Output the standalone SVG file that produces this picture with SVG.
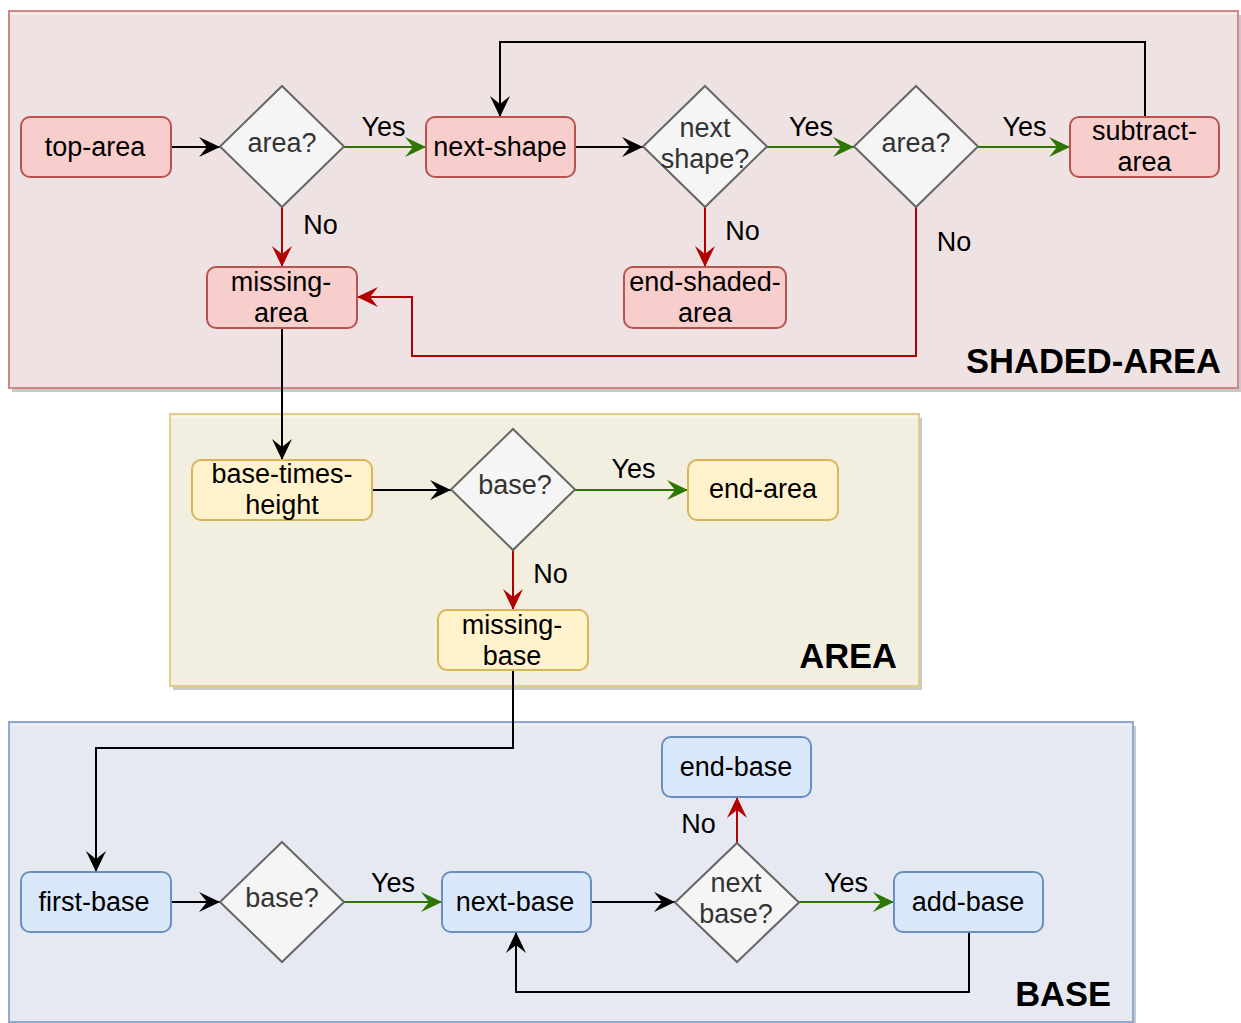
<svg xmlns="http://www.w3.org/2000/svg" width="1241" height="1023" viewBox="0 0 1241 1023">
  <style>
    text { font-family: "Liberation Sans", Arial, Helvetica, sans-serif; }
    .lbl { font-size: 27px; fill: #000; text-anchor: middle; }
    .dlbl { font-size: 27px; fill: #333; text-anchor: middle; }
    .title { font-size: 34.5px; font-weight: bold; fill: #000; text-anchor: end; }
    .shadow { fill: #c9c9c9; }
    .pink { fill: #f8cecc; stroke: #b85450; stroke-width: 2; }
    .yellow { fill: #fff2cc; stroke: #d6b656; stroke-width: 2; }
    .blue { fill: #dae8fc; stroke: #6c8ebf; stroke-width: 2; }
    .dec { fill: #f5f5f5; stroke: #666; stroke-width: 2; }
    .e { fill: none; stroke-width: 2; }
    .k { stroke: #000; marker-end: url(#ah-k); }
    .g { stroke: #2d7600; marker-end: url(#ah-g); }
    .r { stroke: #b20000; marker-end: url(#ah-r); }
  </style>
  <defs>
    <marker id="ah-k" viewBox="-22 -11 24 22" refX="0" refY="0" markerWidth="24" markerHeight="22" markerUnits="userSpaceOnUse" orient="auto">
      <path d="M0,0 L-21,-10 L-13,0 L-21,10 Z" fill="#000"/>
    </marker>
    <marker id="ah-g" viewBox="-22 -11 24 22" refX="0" refY="0" markerWidth="24" markerHeight="22" markerUnits="userSpaceOnUse" orient="auto">
      <path d="M0,0 L-21,-10 L-13,0 L-21,10 Z" fill="#2d7600"/>
    </marker>
    <marker id="ah-r" viewBox="-22 -11 24 22" refX="0" refY="0" markerWidth="24" markerHeight="22" markerUnits="userSpaceOnUse" orient="auto">
      <path d="M0,0 L-21,-10 L-13,0 L-21,10 Z" fill="#b20000"/>
    </marker>
  </defs>

  <rect width="1241" height="1023" fill="#fff"/>

  <!-- swimlane containers -->
  <g id="lane-shaded-area">
    <rect class="shadow" x="12" y="15" width="1229" height="377"/>
    <rect x="9" y="11" width="1229" height="377" fill="#efe2e2" stroke="#d08886" stroke-width="2"/>
    <line x1="10" y1="14" x2="1237" y2="14" stroke="#f8eded" stroke-width="2"/>
    <text class="title" x="1221" y="373">SHADED-AREA</text>
  </g>
  <g id="lane-area">
    <rect class="shadow" x="173" y="418" width="749" height="272"/>
    <rect x="170" y="414" width="749" height="272" fill="#f3efe0" stroke="#e3cc87" stroke-width="2"/>
    <line x1="171" y1="417" x2="918" y2="417" stroke="#f9f5ea" stroke-width="2"/>
    <text class="title" x="897" y="668">AREA</text>
  </g>
  <g id="lane-base">
    <rect class="shadow" x="12" y="726" width="1124" height="300"/>
    <rect x="9" y="722" width="1124" height="300" fill="#e6e9f1" stroke="#8eaad2" stroke-width="2"/>
    <line x1="10" y1="725" x2="1132" y2="725" stroke="#eef0f6" stroke-width="2"/>
    <text class="title" x="1111" y="1006">BASE</text>
  </g>

  <!-- connectors -->
  <g id="connectors">
    <path class="e k" d="M171,147 H220"/>
    <path class="e g" d="M344,147 H426"/>
    <path class="e r" d="M282,207 V267"/>
    <path class="e k" d="M575,147 H643"/>
    <path class="e g" d="M767,147 H854"/>
    <path class="e r" d="M705,207 V267"/>
    <path class="e g" d="M978,147 H1070"/>
    <path class="e r" d="M916,207 V356 H412 V297 H357"/>
    <path class="e k" d="M1145,117 V42 H500 V117"/>
    <path class="e k" d="M282,328 V460"/>
    <path class="e k" d="M372,490 H451"/>
    <path class="e g" d="M575,490 H688"/>
    <path class="e r" d="M513,550 V610"/>
    <path class="e k" d="M513,670 V748 H96 V872"/>
    <path class="e k" d="M171,902 H220"/>
    <path class="e g" d="M344,902 H442"/>
    <path class="e k" d="M591,902 H675"/>
    <path class="e g" d="M799,902 H894"/>
    <path class="e r" d="M737,843 V797"/>
    <path class="e k" d="M969,932 V992 H516 V932"/>

    <text class="lbl" x="383.5" y="136">Yes</text>
    <text class="lbl" x="320.5" y="234">No</text>
    <text class="lbl" x="811" y="136">Yes</text>
    <text class="lbl" x="742.5" y="240">No</text>
    <text class="lbl" x="1024.5" y="136">Yes</text>
    <text class="lbl" x="954" y="251">No</text>
    <text class="lbl" x="633.5" y="478">Yes</text>
    <text class="lbl" x="550.5" y="583">No</text>
    <text class="lbl" x="393" y="892">Yes</text>
    <text class="lbl" x="698.5" y="833">No</text>
    <text class="lbl" x="846" y="892">Yes</text>
  </g>

  <!-- SHADED-AREA nodes -->
  <g id="top-area">
    <rect class="pink" x="21" y="117" width="150" height="60" rx="9"/>
    <text class="lbl" x="95" y="156">top-area</text>
  </g>
  <g id="area-check-1">
    <polygon class="dec" points="282,86 344,146.5 282,207 220,146.5"/>
    <text class="dlbl" x="282" y="152">area?</text>
  </g>
  <g id="next-shape">
    <rect class="pink" x="426" y="117" width="149" height="60" rx="9"/>
    <text class="lbl" x="500" y="156">next-shape</text>
  </g>
  <g id="next-shape-check">
    <polygon class="dec" points="705,86 767,146.5 705,207 643,146.5"/>
    <text class="dlbl" x="705" y="137">next</text>
    <text class="dlbl" x="705" y="168">shape?</text>
  </g>
  <g id="area-check-2">
    <polygon class="dec" points="916,86 978,146.5 916,207 854,146.5"/>
    <text class="dlbl" x="916" y="152">area?</text>
  </g>
  <g id="subtract-area">
    <rect class="pink" x="1070" y="117" width="149" height="60" rx="9"/>
    <text class="lbl" x="1144.5" y="139.5">subtract-</text>
    <text class="lbl" x="1144.5" y="171">area</text>
  </g>
  <g id="missing-area">
    <rect class="pink" x="207" y="267" width="150" height="61" rx="9"/>
    <text class="lbl" x="281" y="291">missing-</text>
    <text class="lbl" x="281" y="322">area</text>
  </g>
  <g id="end-shaded-area">
    <rect class="pink" x="624" y="267" width="162" height="61" rx="9"/>
    <text class="lbl" x="705" y="291">end-shaded-</text>
    <text class="lbl" x="705" y="322">area</text>
  </g>

  <!-- AREA nodes -->
  <g id="base-times-height">
    <rect class="yellow" x="192" y="460" width="180" height="60" rx="9"/>
    <text class="lbl" x="282" y="482.5">base-times-</text>
    <text class="lbl" x="282" y="513.5">height</text>
  </g>
  <g id="base-check-1">
    <polygon class="dec" points="513,429 575,489.5 513,550 451,489.5"/>
    <text class="dlbl" x="515" y="494">base?</text>
  </g>
  <g id="end-area">
    <rect class="yellow" x="688" y="460" width="150" height="60" rx="9"/>
    <text class="lbl" x="763" y="498">end-area</text>
  </g>
  <g id="missing-base">
    <rect class="yellow" x="438" y="610" width="150" height="60" rx="9"/>
    <text class="lbl" x="512" y="633.5">missing-</text>
    <text class="lbl" x="512" y="664.5">base</text>
  </g>

  <!-- BASE nodes -->
  <g id="first-base">
    <rect class="blue" x="21" y="872" width="150" height="60" rx="9"/>
    <text class="lbl" x="94" y="910.5">first-base</text>
  </g>
  <g id="base-check-2">
    <polygon class="dec" points="282,842 344,902 282,962 220,902"/>
    <text class="dlbl" x="282" y="906.5">base?</text>
  </g>
  <g id="next-base">
    <rect class="blue" x="442" y="872" width="149" height="60" rx="9"/>
    <text class="lbl" x="515" y="910.5">next-base</text>
  </g>
  <g id="next-base-check">
    <polygon class="dec" points="737,843 799,902.5 737,962 675,902.5"/>
    <text class="dlbl" x="736" y="891.5">next</text>
    <text class="dlbl" x="736" y="922.5">base?</text>
  </g>
  <g id="end-base">
    <rect class="blue" x="662" y="737" width="149" height="60" rx="9"/>
    <text class="lbl" x="736" y="775.5">end-base</text>
  </g>
  <g id="add-base">
    <rect class="blue" x="894" y="872" width="149" height="60" rx="9"/>
    <text class="lbl" x="968" y="910.5">add-base</text>
  </g>
</svg>
